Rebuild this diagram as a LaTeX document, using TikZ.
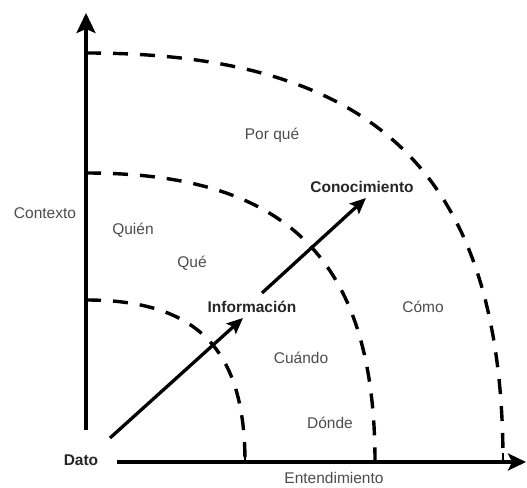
\documentclass[tikz,border=0pt]{standalone}
\usepackage{fontspec}
\setmainfont{Liberation Sans}
\usetikzlibrary{arrows.meta}
\begin{document}
\begin{tikzpicture}[x=1pt,y=-1pt,
  axis/.style={line width=3.3pt},
  arcline/.style={line width=3.4pt, dash pattern=on 15pt off 12pt},
  tick/.style={line width=2.8pt},
  lbl/.style={font=\fontsize{15.5}{17}\selectfont, text=black!70, inner sep=0pt},
  blbl/.style={font=\fontsize{15.5}{17}\selectfont\bfseries, text=black!85, inner sep=0pt},
  flow/.style={line width=3.3pt, -{Stealth[length=16pt,width=14pt,inset=3pt]}}]
\useasboundingbox (0,0) rectangle (527,487);
% axes
\coordinate (vbot) at (86,430);
\coordinate (vtop) at (86,13);
\coordinate (hleft) at (117,462);
\coordinate (hright) at (526,462);
\draw[axis, -{Stealth[length=20pt,width=19pt,inset=4pt]}] (vbot) -- (vtop);
\draw[axis, -{Stealth[length=18pt,width=17pt,inset=4pt]}] (hleft) -- (hright);
% ticks
\draw[tick] (86,53) -- (100,53);
\draw[tick] (86,173) -- (100,173);
\draw[tick] (86,300) -- (100,300);
\draw[tick] (245,462) -- (245,453);
\draw[tick] (375,462) -- (375,453);
\draw[tick] (503,462) -- (503,453);
% arcs
\draw[arcline] (86,300) .. controls (197,300) and (245,349) .. (245,462);
\draw[arcline] (86,173) .. controls (288,173) and (375,260) .. (375,462);
\draw[arcline] (86,53) .. controls (378,53) and (503,176) .. (503,462);
% labels
\node[lbl] (contexto) at (45,213) {Contexto};
\node[lbl] (quien) at (133,230) {Quién};
\node[lbl] (que) at (192,263) {Qué};
\node[lbl] (porque) at (272,135) {Por qué};
\node[blbl] (conoc) at (362,187) {Conocimiento};
\node[blbl] (info) at (252,307) {Información};
\node[lbl] (como) at (423,307) {Cómo};
\node[lbl] (cuando) at (301,358) {Cuándo};
\node[lbl] (donde) at (330,423) {Dónde};
\node[lbl] (entend) at (334,478) {Entendimiento};
\node[blbl] (dato) at (81,460) {Dato};
% arrows
\coordinate (a1s) at (110,438);
\coordinate (a1e) at (243,318);
\coordinate (a2s) at (262,293);
\coordinate (a2e) at (366,198);
\draw[flow] (a1s) -- (a1e);
\draw[flow] (a2s) -- (a2e);
\end{tikzpicture}
\end{document}
